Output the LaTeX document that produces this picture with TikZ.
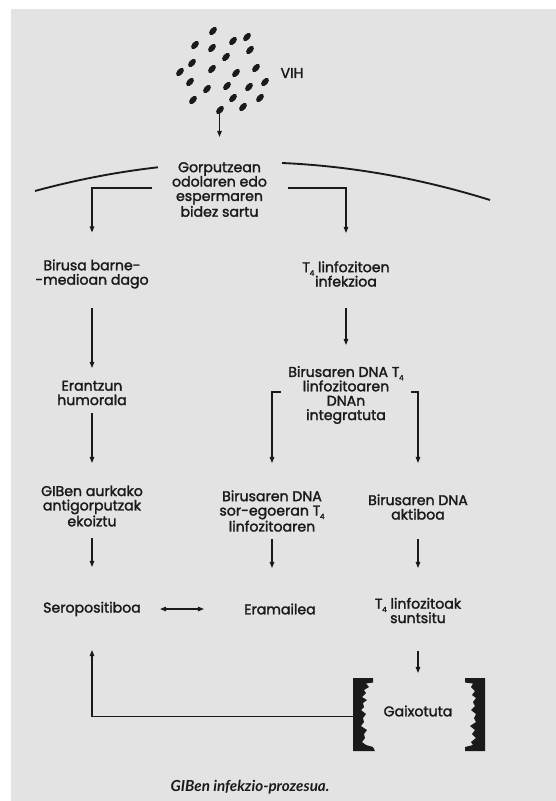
\documentclass[tikz,border=0pt]{standalone}
\usepackage{fontspec}
\setmainfont{Poppins}[BoldFont=Poppins,BoldFeatures={FakeBold=1.8}]
\newfontfamily\capfont{Lato}[BoldFont=Lato Bold,BoldItalicFont=Lato Bold Italic]
\usetikzlibrary{arrows.meta,calc}
\definecolor{paper}{HTML}{E3E3E3}
\definecolor{ink}{HTML}{1A1A1A}
% T with a lowered small 4
\newcommand\Tfour{T\kern-0.3pt\raisebox{-0.45ex}{\fontsize{5.5}{5.5}\selectfont 4}}

\begin{document}
\begin{tikzpicture}[x=0.75pt,y=-0.75pt,
  lbl/.style={align=center, inner sep=0pt, text=ink,
    font=\fontsize{10.6}{10.8}\selectfont\bfseries},
  arr/.style={draw=ink, line width=0.95pt, -{Triangle[length=4.6pt,width=3.4pt]}},
  dbl/.style={draw=ink, line width=0.95pt, {Triangle[length=4.6pt,width=3.4pt]}-{Triangle[length=4.6pt,width=3.4pt]}},
  skin/.style={draw=ink, line width=1.4pt}]
\useasboundingbox (0,0) rectangle (556,801);
\fill[paper] (11,9) rectangle (556,801);

% virus particles
\foreach \px/\py in {213/31,195/45,212/48,233/41,247/37,250/50,226/57,192/63,
  180/72,212/69,236/73,256/68,190/82,207/89,227/86,249/87,265/82,193/100,
  233/98,260/98,243/107,220/110}
  \fill[ink, rotate around={50:(\px,\py)}] (\px,\py) ellipse [x radius=4.9, y radius=2.9];
\node[lbl] (vih) at (292,73) {VIH};
\coordinate (vtail) at (219.5,112);

% body surface
\draw[skin] plot[domain=35:158, samples=30, smooth] (\x,{162.2+((\x-247)*0.0253)^2});
\draw[skin] plot[domain=282:490, samples=40, smooth] (\x,{162.2+((\x-247)*0.0253)^2});

% text nodes
\node[lbl] (gorp) at (219.5,189.5) {Gorputzean\\odolaren edo\\espermaren\\bidez sartu};
\node[lbl] (biru) at (92,274) {Birusa barne-\\-medioan dago};
\node[lbl] (t4inf) at (346,274) {\Tfour{} linfozitoen\\infekzioa};
\node[lbl] (eran) at (92,393) {Erantzun\\humorala};
\node[lbl] (dnaint) at (346,395) {Birusaren DNA \Tfour\\linfozitoaren\\DNAn\\integratuta};
\node[lbl] (gib) at (92,506) {GIBen aurkako\\antigorputzak\\ekoiztu};
\node[lbl] (sorego) at (272,511) {Birusaren DNA\\sor-egoeran \Tfour\\linfozitoaren};
\node[lbl] (akt) at (418,507) {Birusaren DNA\\aktiboa};
\node[lbl] (sero) at (92,609) {Seropositiboa};
\node[lbl] (eram) at (280,609) {Eramailea};
\node[lbl] (t4lk) at (418,610.5) {\Tfour{} linfozitoak\\suntsitu};
\node[lbl] (gaix) at (418,711) {Gaixotuta};
\node[text=ink, inner sep=0pt, font=\capfont\fontsize{11.4}{12}\selectfont\bfseries\itshape]
  (cap) at (250,787) {GIBen infekzio-prozesua.};

% torn brackets around the last stage
\fill[ink] (353,678) -- (373,678) -- (373,682.5) -- (366,683.5) -- (369,687) -- (364,690)
  -- (366,693) -- (362,697) -- (367,700) -- (363,703) -- (364,707) -- (361,710)
  -- (366,714) -- (363,718) -- (364,722) -- (361,726) -- (367,730) -- (364,734)
  -- (365,738) -- (362,742) -- (366,745) -- (373,747) -- (375,751) -- (353,751) -- cycle;
\fill[ink] (485,678) -- (465,678) -- (465,682.5) -- (473,683.5) -- (471,687) -- (475,691)
  -- (472,695) -- (476,698) -- (473,702) -- (475,706) -- (471,710) -- (476,714)
  -- (474,718) -- (476,722) -- (470,726) -- (475,730) -- (472,734) -- (476,738)
  -- (471,742) -- (473,745) -- (465,747) -- (465,751) -- (485,751) -- cycle;

% connectors
\draw[arr] (vtail) -- ($(gorp.center)+(0,-52.5)$);
\draw[arr] ($(gorp.center)+(-67.5,-1.5)$) -| ($(biru.center)+(0,-41.5)$);
\draw[arr] ($(gorp.center)+(68.5,-1.5)$) -| ($(t4inf.center)+(0,-41)$);
\draw[arr] ($(biru.center)+(0,34)$) -- ($(eran.center)+(0,-25)$);
\draw[arr] ($(eran.center)+(0,20)$) -- ($(gib.center)+(0,-43)$);
\draw[arr] ($(gib.center)+(0,32)$) -- ($(sero.center)+(0,-42)$);
\draw[arr] ($(t4inf.center)+(0,34)$) -- ($(dnaint.center)+(0,-50)$);
\draw[arr] ($(dnaint.center)+(-65,-3)$) -| ($(sorego.center)+(0,-48)$);
\draw[arr] ($(dnaint.center)+(65,-3)$) -| ($(akt.center)+(0,-44)$);
\draw[arr] ($(sorego.center)+(0,28)$) -- ($(sorego.center |- eram.center)+(0,-41)$);
\draw[arr] ($(akt.center)+(0,32)$) -- ($(t4lk.center)+(0,-42.5)$);
\draw[dbl] ($(sero.center)+(68,0)$) -- ($(eram.center)+(-76,0)$);
\draw[arr] ($(t4lk.center)+(0,40)$) -- ($(gaix.center)+(0,-38)$);
\draw[arr] ($(gaix.center)+(-65,5.5)$) -| ($(sero.center)+(0,41)$);
\end{tikzpicture}
\end{document}
